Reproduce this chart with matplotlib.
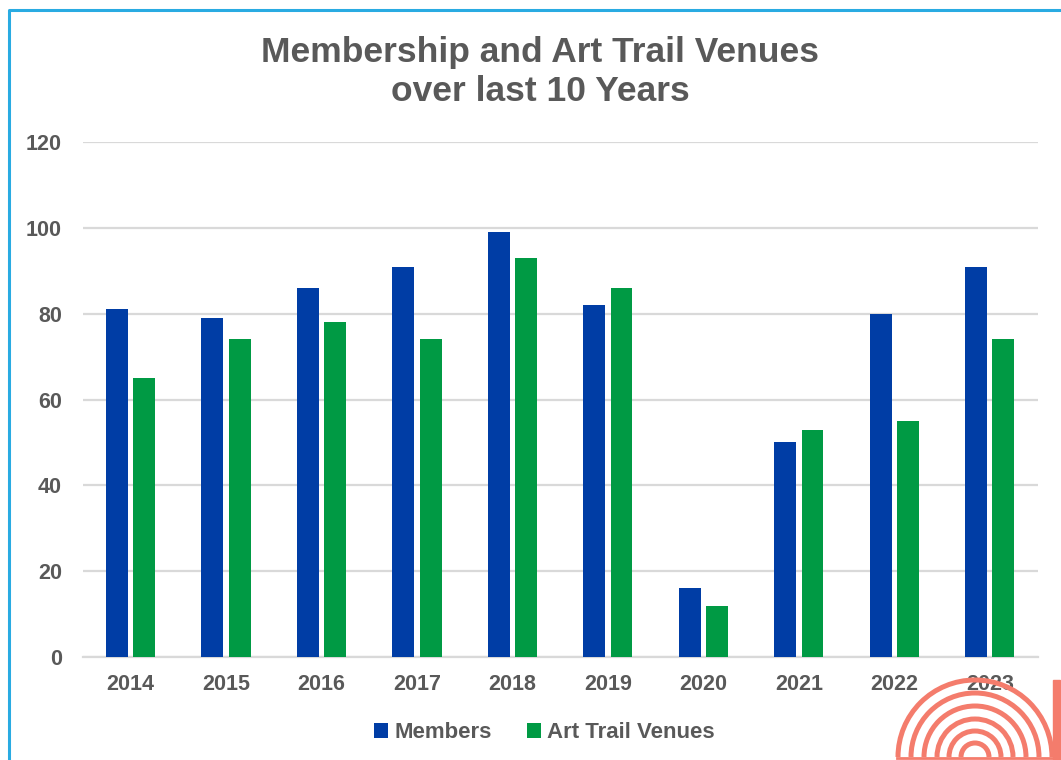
"""Membership and Art Trail Venues bar chart"""
import numpy as np
import matplotlib
matplotlib.use("Agg")
import matplotlib.pyplot as plt
from matplotlib.patches import Arc, Rectangle

years = ["2014", "2015", "2016", "2017", "2018",
         "2019", "2020", "2021", "2022", "2023"]
members = [81, 79, 86, 91, 99, 82, 16, 50, 80, 91]
venues = [65, 74, 78, 74, 93, 86, 12, 53, 55, 74]

plt.rcParams["font.family"] = ["Liberation Sans", "DejaVu Sans"]
plt.rcParams["font.weight"] = "bold"
text_grey = "#595959"
blue = "#003DA5"
green = "#009A44"

fig = plt.figure(figsize=(10.61, 7.6), dpi=100)
ax = fig.add_axes([0.078, 0.1355, 0.9, 0.6775])

x = np.arange(len(years))
width = 0.23
ax.bar(x - 0.142, members, width, color=blue, label="Members", zorder=3)
ax.bar(x + 0.142, venues, width, color=green, label="Art Trail Venues",
       zorder=3)

ax.set_xlim(-0.5, len(years) - 0.5)
ax.set_ylim(0, 120)
ax.set_yticks(range(0, 121, 20))
ax.set_xticks(x)
ax.set_xticklabels(years)
ax.yaxis.grid(True, color="#d9d9d9", linewidth=1.6, zorder=0)
for side in ["top", "right", "left"]:
    ax.spines[side].set_visible(False)
ax.spines["bottom"].set_color("#d9d9d9")
ax.spines["bottom"].set_linewidth(1.6)
ax.tick_params(length=0, labelsize=15.5, colors=text_grey)
ax.tick_params(axis="x", pad=12)
ax.tick_params(axis="y", pad=15)

fig.text(0.509, 0.905, "Membership and Art Trail Venues\nover last 10 Years",
         ha="center", va="center", fontsize=25.5, color=text_grey,
         linespacing=1.25)

fig.legend(loc="center", bbox_to_anchor=(0.513, 0.036), ncol=2,
           frameon=False, fontsize=16, handlelength=0.65, handleheight=0.65,
           handletextpad=0.25, columnspacing=1.6, labelcolor=text_grey)

# frame and logo overlay in pixel coordinates
over = fig.add_axes([0, 0, 1, 1], zorder=5)
over.set_xlim(0, 1061)
over.set_ylim(760, 0)
over.axis("off")
over.plot([9, 9, 1061], [760, 10, 10], color="#29abe2", linewidth=2.2)
logo = "#F47C6C"
for r in [77, 64, 51, 38, 26, 14]:
    over.add_patch(Arc((975, 757), 2 * r, 2 * r, theta1=180, theta2=360,
                       color=logo, linewidth=3.6))
over.add_patch(Rectangle((1053, 680), 7, 80, color=logo))
over.plot([897, 1055], [758, 758], color=logo, linewidth=2)

fig.savefig("out.png", dpi=100)
